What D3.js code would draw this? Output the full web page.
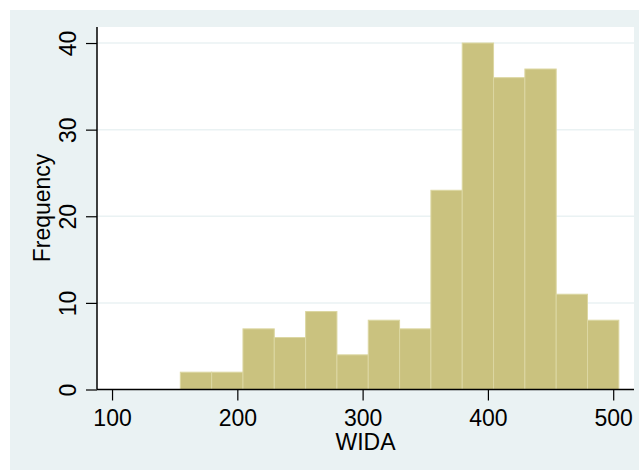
<!DOCTYPE html>
<html>
<head>
<meta charset="utf-8">
<script src="https://cdn.jsdelivr.net/npm/d3@7"></script>
<style>
  body { margin: 0; background: #fff; }
  text { font-family: "Liberation Sans", Arial, sans-serif; fill: #000; }
</style>
</head>
<body>
<svg id="chart" width="639" height="471"></svg>
<script>
// histogram of WIDA scores: bin edges and counts
const binEdges = [154.5, 179.5, 204.5, 229.5, 254.5, 279.5, 304.5, 329.5, 354.5, 379.5, 404.5, 429.5, 454.5, 479.5, 504.5];
const counts   = [2, 2, 7, 6, 9, 4, 8, 7, 23, 40, 36, 37, 11, 8];
const xTicks = [100, 200, 300, 400, 500];
const yTicks = [0, 10, 20, 30, 40];

const svg = d3.select("#chart");
const bg = "#eaf2f3";
const fontSize = "23px";

// outer graph region
svg.append("rect")
  .attr("x", 10).attr("y", 10)
  .attr("width", 629).attr("height", 460)
  .attr("fill", bg);

const plot = { left: 97, right: 634, top: 27, bottom: 389.5 };

svg.append("rect")
  .attr("x", plot.left).attr("y", plot.top)
  .attr("width", plot.right - plot.left)
  .attr("height", plot.bottom - plot.top)
  .attr("fill", "#fff");

const x = d3.scaleLinear()
  .domain([88.0, 516.6])
  .range([plot.left, plot.right]);

const y = d3.scaleLinear()
  .domain([0, 41.85])
  .range([plot.bottom, plot.top]);

// gridlines
svg.append("g")
  .selectAll("line")
  .data(yTicks.filter(d => d > 0))
  .join("line")
    .attr("x1", plot.left).attr("x2", plot.right)
    .attr("y1", d => y(d)).attr("y2", d => y(d))
    .attr("stroke", bg)
    .attr("stroke-width", 1.5);

// bars
const bins = counts.map((c, i) => ({ x0: binEdges[i], x1: binEdges[i + 1], n: c }));
svg.append("g")
  .selectAll("rect")
  .data(bins)
  .join("rect")
    .attr("x", d => x(d.x0))
    .attr("y", d => y(d.n))
    .attr("width", d => x(d.x1) - x(d.x0))
    .attr("height", d => y(0) - y(d.n))
    .attr("fill", "#cac27f")
    .attr("stroke", "#dcd7a2")
    .attr("stroke-width", 1);

// y axis
const yAxis = svg.append("g")
  .attr("transform", `translate(${plot.left},0)`)
  .call(d3.axisLeft(y).tickValues(yTicks).tickSize(11).tickPadding(0).tickFormat(d3.format("d")));
yAxis.select(".domain").attr("d", `M0,${plot.top}V${plot.bottom}`).attr("stroke", "#000").attr("stroke-width", 1.5);
yAxis.selectAll(".tick line").attr("stroke", "#000").attr("stroke-width", 1.2);
yAxis.selectAll(".tick text")
  .attr("x", null).attr("dy", null)
  .attr("text-anchor", "middle")
  .attr("transform", `translate(-21,0) rotate(-90)`)
  .style("font-size", fontSize)
  .style("font-family", "Liberation Sans, Arial, sans-serif");

// x axis
const xAxis = svg.append("g")
  .attr("transform", `translate(0,${plot.bottom})`)
  .call(d3.axisBottom(x).tickValues(xTicks).tickSize(11).tickPadding(0).tickFormat(d3.format("d")));
xAxis.select(".domain").attr("d", `M${plot.left},0H${plot.right}`).attr("stroke", "#000").attr("stroke-width", 1.5);
xAxis.selectAll(".tick line").attr("stroke", "#000").attr("stroke-width", 1.2);
xAxis.selectAll(".tick text")
  .attr("y", 36.5).attr("dy", null)
  .style("font-size", fontSize)
  .style("font-family", "Liberation Sans, Arial, sans-serif");

// axis titles
svg.append("text")
  .attr("x", (plot.left + plot.right) / 2).attr("y", 449.5)
  .attr("text-anchor", "middle")
  .style("font-size", fontSize)
  .text("WIDA");

svg.append("text")
  .attr("transform", "translate(50,208) rotate(-90)")
  .attr("text-anchor", "middle")
  .style("font-size", fontSize)
  .text("Frequency");
</script>
</body>
</html>
